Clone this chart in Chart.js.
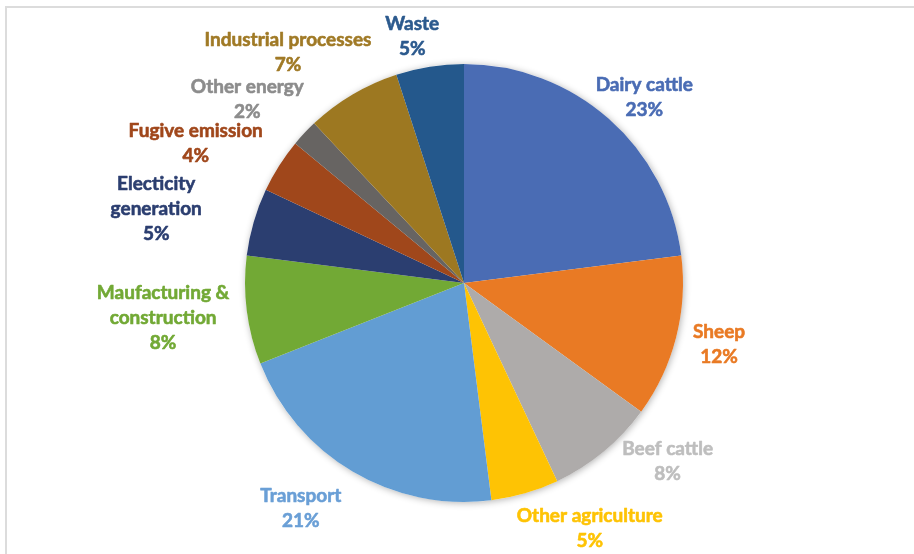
<!DOCTYPE html>
<html>
<head>
<meta charset="utf-8">
<title>Emissions by source</title>
<script src="https://cdn.jsdelivr.net/npm/chart.js@4"></script>
<style>
  html, body { margin: 0; padding: 0; background: #fff; overflow: hidden; }
  #wrap { position: relative; width: 914px; height: 554px; }
  #frame { position: absolute; left: 5px; top: 6px; width: 1000px; height: 1000px; border: 2px solid #dcdcdc; box-sizing: border-box; }
  #chart { position: absolute; left: 0; top: 0; }
</style>
</head>
<body>
<div id="wrap">
  <div id="frame"></div>
  <canvas id="chart" width="914" height="554"></canvas>
</div>
<script>
// sources, clockwise from 12 o'clock
const sources = [
  'Dairy cattle', 'Sheep', 'Beef cattle', 'Other agriculture', 'Transport',
  ['Maufacturing &', 'construction'], ['Electicity', 'generation'],
  'Fugive emission', 'Other energy', 'Industrial processes', 'Waste'
];
const shares = [23, 12, 8, 5, 21, 8, 5, 4, 2, 7, 5];

const sliceColors = ['#4A6CB4', '#E97A24', '#AEABAA', '#FEC304', '#629DD3', '#72A935',
                     '#2B3E70', '#A0471B', '#676462', '#9D7821', '#24588C'];
const labelColors = ['#4A6CB4', '#E97A24', '#BEBEBE', '#FEC304', '#6A9FD6', '#72A935',
                     '#2B3E70', '#A0471B', '#8C8C8C', '#A07A26', '#2C5A8E'];
// small shifts so the labels sit where a best-fit layout would put them
const labelNudge = [[-2, 3], [10, -1], [30, -16], [42, 3], [-27, 8], [-10, 2],
                    [-46, 0], [-20, -5], [-10, -11], [-18, -14], [-12, 2]];

const LABEL_FONT = 'bold 19px Lato';
const LINE_H = 25;

// soft drop shadow under the whole pie
const pieShadow = {
  id: 'pieShadow',
  beforeDatasetsDraw(chart) {
    const arc = chart.getDatasetMeta(0).data[0];
    if (!arc) return;
    const ctx = chart.ctx;
    ctx.save();
    ctx.shadowColor = 'rgba(0,0,0,0.3)';
    ctx.shadowBlur = 7;
    ctx.shadowOffsetX = 1;
    ctx.shadowOffsetY = 1;
    ctx.fillStyle = '#fff';
    ctx.beginPath();
    ctx.arc(arc.x, arc.y, arc.outerRadius, 0, Math.PI * 2);
    ctx.fill();
    ctx.restore();
  }
};

// category name + percentage outside each slice
const outsideLabels = {
  id: 'outsideLabels',
  afterDatasetsDraw(chart) {
    const ctx = chart.ctx;
    const meta = chart.getDatasetMeta(0);
    const total = shares.reduce((a, b) => a + b, 0);
    ctx.save();
    ctx.font = LABEL_FONT;
    ctx.textAlign = 'center';
    ctx.textBaseline = 'middle';
    ctx.lineWidth = 0.6;
    ctx.lineJoin = 'round';
    meta.data.forEach((arc, i) => {
      const name = sources[i];
      const lines = (Array.isArray(name) ? name.slice() : [name]);
      lines.push(Math.round(shares[i] / total * 100) + '%');
      const w = Math.max(...lines.map(t => ctx.measureText(t).width));
      const h = lines.length * LINE_H;
      const mid = (arc.startAngle + arc.endAngle) / 2;
      const dx = Math.cos(mid), dy = Math.sin(mid);
      const r = arc.outerRadius + 8;
      const cx = arc.x + r * dx + dx * w / 2 + labelNudge[i][0];
      const cy = arc.y + r * dy + dy * h / 2 + labelNudge[i][1];
      ctx.fillStyle = labelColors[i];
      ctx.strokeStyle = labelColors[i];
      lines.forEach((t, k) => {
        const y = cy - (lines.length - 1) * LINE_H / 2 + k * LINE_H;
        ctx.fillText(t, cx, y);
        ctx.strokeText(t, cx, y);
      });
    });
    ctx.restore();
  }
};

new Chart(document.getElementById('chart'), {
  type: 'pie',
  data: {
    labels: sources,
    datasets: [{
      data: shares,
      backgroundColor: sliceColors,
      borderWidth: 0
    }]
  },
  options: {
    responsive: false,
    animation: false,
    layout: { padding: { top: 64, bottom: 52, left: 245, right: 231 } },
    plugins: {
      legend: { display: false },
      tooltip: { enabled: false }
    }
  },
  plugins: [pieShadow, outsideLabels]
});
</script>
</body>
</html>
